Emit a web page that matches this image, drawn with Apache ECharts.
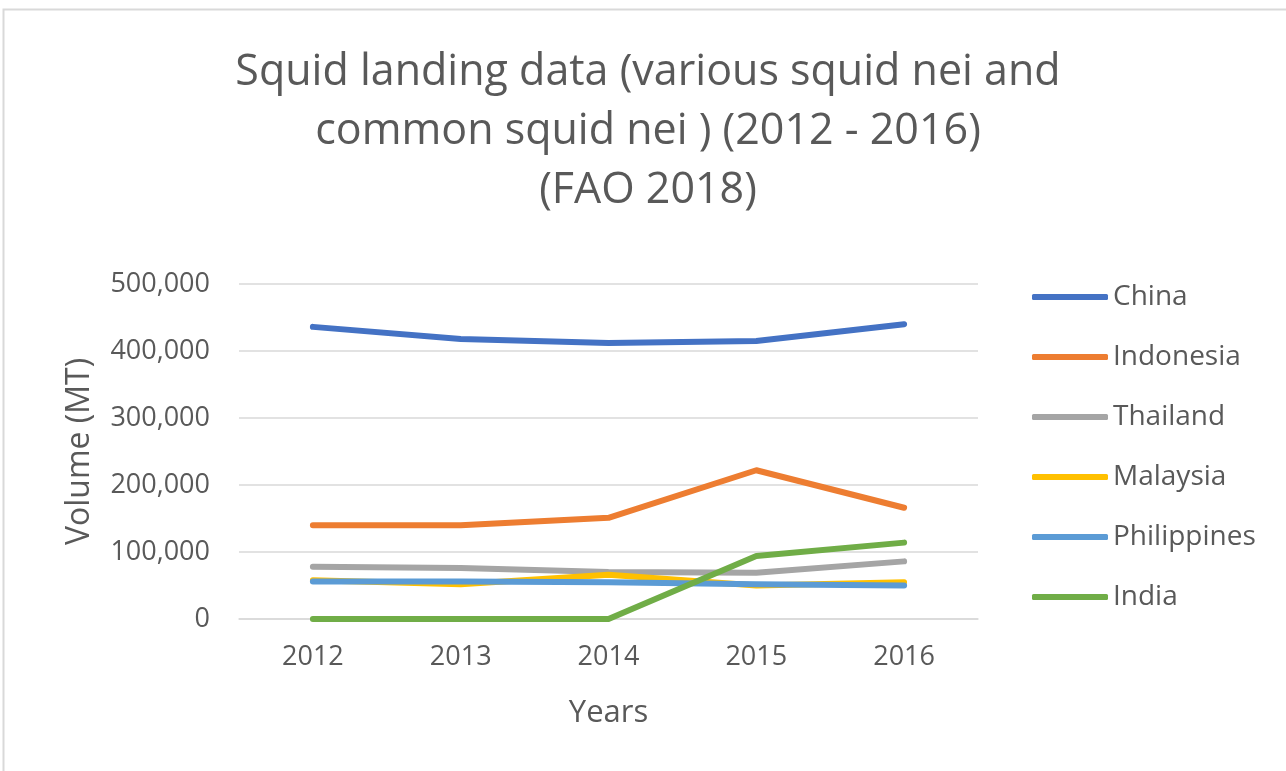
<!DOCTYPE html>
<html><head><meta charset="utf-8">
<script src="https://cdn.jsdelivr.net/npm/echarts@6/dist/echarts.min.js"></script>
<style>html,body{margin:0;padding:0;background:#fff}#c{width:1286px;height:771px}</style>
</head><body><div id="c"></div>
<script>
const years = ['2012','2013','2014','2015','2016'];
const seriesNames = ['China','Indonesia','Thailand','Malaysia','Philippines','India'];
const china = [436000, 418000, 412000, 415000, 440000];
const indonesia = [140000, 140000, 151000, 222000, 166000];
const thailand = [78000, 76000, 70000, 69000, 86000];
const malaysia = [58000, 52000, 66000, 50000, 55000];
const philippines = [56000, 56000, 55000, 52000, 50000];
const india = [0, 0, 0, 94000, 114000];
const colors = ['#4472C4','#ED7D31','#A5A5A5','#FFC000','#5B9BD5','#70AD47'];
const allData = [china, indonesia, thailand, malaysia, philippines, india];

const font = 'Open Sans';
const chart = echarts.init(document.getElementById('c'));
chart.setOption({
  animation: false,
  textStyle: {fontFamily: font},
  title: {
    text: 'Squid landing data (various squid nei and\ncommon squid nei ) (2012 - 2016)\n(FAO 2018)',
    left: 648, top: 43, textAlign: 'center', padding: 0,
    textStyle: {fontSize: 43, fontWeight: 'normal', color: '#595959', lineHeight: 59, fontFamily: font}
  },
  graphic: [{type:'rect', shape:{x:3.5,y:9.5,width:1300,height:800}, style:{fill:'none', stroke:'#d9d9d9', lineWidth:2}}],
  legend: {
    orient: 'vertical', left: 1032, top: 282, padding: 0, itemGap: 30, itemWidth: 76, itemHeight: 6,
    icon: 'roundRect',
    textStyle: {fontSize: 28, lineHeight: 30, color: '#595959', fontFamily: font},
    data: seriesNames
  },
  grid: {left: 239, right: 308, top: 284, bottom: 152},
  xAxis: {
    type: 'category', data: years, boundaryGap: true,
    name: 'Years', nameLocation: 'middle', nameGap: 79,
    nameTextStyle: {fontSize: 31, color: '#595959'},
    axisLine: {show: true, lineStyle: {color: '#d9d9d9', width: 1.5}},
    axisTick: {show: false},
    axisLabel: {fontSize: 27, color: '#595959', margin: 25}
  },
  yAxis: {
    type: 'value', min: 0, max: 500000, interval: 100000,
    name: 'Volume (MT)', nameLocation: 'middle', nameGap: 143, nameRotate: 90,
    nameTextStyle: {fontSize: 32, color: '#595959'},
    axisLine: {show: false}, axisTick: {show: false},
    splitLine: {lineStyle: {color: '#d9d9d9', width: 1.5}},
    axisLabel: {fontSize: 27, color: '#595959', margin: 29,
      formatter: v => v.toLocaleString('en-US')}
  },
  series: seriesNames.map((n, i) => ({
    name: n, type: 'line', data: allData[i], symbol: 'none',
    lineStyle: {color: colors[i], width: 6, cap: 'round', join: 'round'},
    itemStyle: {color: colors[i]}
  }))
});
</script></body></html>
